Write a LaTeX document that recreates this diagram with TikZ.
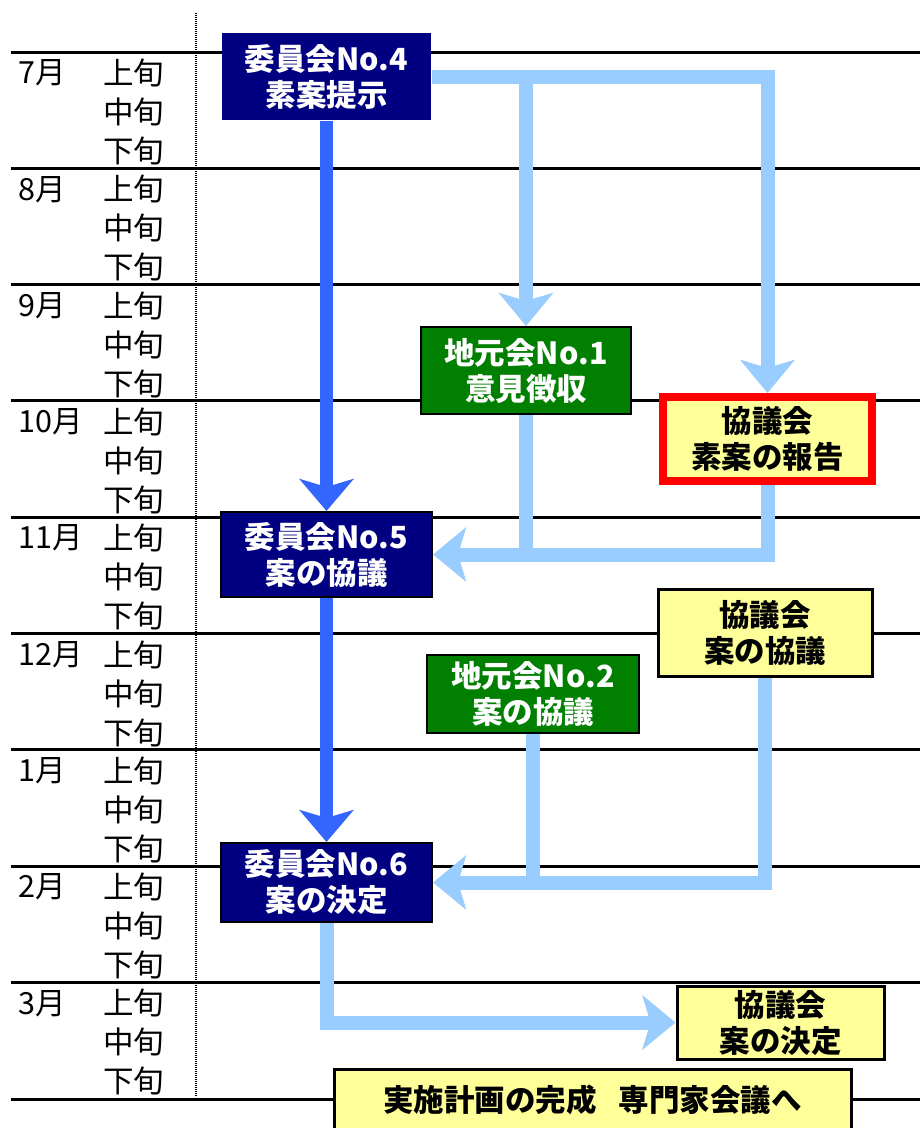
\documentclass[tikz,border=0pt]{standalone}
\usepackage{fontspec}
\setmainfont{Noto Sans CJK JP}
\usetikzlibrary{arrows.meta}
\definecolor{cnavy}{HTML}{000080}
\definecolor{cgreen}{HTML}{007F00}
\definecolor{cyellow}{HTML}{FFFF99}
\definecolor{clight}{HTML}{99CCFF}
\definecolor{cdark}{HTML}{3366FF}
\definecolor{cred}{HTML}{FF0000}
\begin{document}
\begin{tikzpicture}[x=1pt,y=-1pt,
  gridline/.style={line width=3pt,black},
  lbl/.style={anchor=west,inner sep=0pt,font=\fontsize{30.5}{30.5}\selectfont},
  box/.style={rectangle,inner sep=0pt,align=center,draw=black,line width=2pt,
    font=\bfseries\fontsize{30.5}{36}\selectfont},
  cbox/.style={box,fill=cnavy,text=white},
  gbox/.style={box,fill=cgreen,text=white},
  ybox/.style={box,fill=cyellow,text=black},
  darkline/.style={line width=13pt,draw=cdark},
  lightline/.style={line width=14pt,draw=clight},
  tipd/.style={-{Stealth[length=32pt,width=54pt,inset=8pt,fill=cdark]}},
  tipl/.style={-{Stealth[length=33pt,width=54pt,inset=8pt,fill=clight]}}
]
\useasboundingbox (0,0) rectangle (920,1128);
% grid
\foreach \m [count=\i from 0] in {7,8,9,10,11,12,1,2,3} {
  \pgfmathsetmacro\yy{52+116.3*\i}
  \draw[gridline] (11,\yy) -- (920,\yy);
  \node[lbl] (m\i) at (18,\yy+21) {\m 月};
  \node[lbl] (a\i) at (103,\yy+21) {上旬};
  \node[lbl] (b\i) at (103,\yy+60) {中旬};
  \node[lbl] (c\i) at (103,\yy+99) {下旬};
}
\draw[gridline] (11,1099) -- (920,1099);
\draw[line width=2.2pt,dash pattern=on 1.2pt off 0.8pt] (196,13) -- (196,1097);
% boxes
\node[cbox,draw=none,minimum width=209pt,minimum height=87pt] (c4) at (326.5,76.5) {委員会No.4\\素案提示};
\node[cbox,minimum width=211pt,minimum height=85pt] (c5) at (326.5,554.5) {委員会No.5\\案の協議};
\node[cbox,minimum width=211pt,minimum height=79pt] (c6) at (326.5,882.5) {委員会No.6\\案の決定};
\node[gbox,minimum width=210pt,minimum height=87pt] (l1) at (526,370.5) {地元会No.1\\意見徴収};
\node[gbox,minimum width=212pt,minimum height=78pt] (l2) at (533,694) {地元会No.2\\案の協議};
\node[ybox,draw=cred,line width=8pt,minimum width=209pt,minimum height=84pt] (k1) at (767.5,439) {協議会\\素案の報告};
\node[ybox,line width=3pt,minimum width=214pt,minimum height=87pt] (k2) at (765,632.5) {協議会\\案の協議};
\node[ybox,line width=3pt,minimum width=207pt,minimum height=73pt] (k3) at (780.5,1022.5) {協議会\\案の決定};
\node[ybox,line width=3pt,minimum width=517pt,minimum height=62pt] (fin) at (592.5,1100) {実施計画の完成\hspace{22pt}専門家会議へ};
% connectors
\draw[darkline,tipd] (c4.south) -- (c5.north);
\draw[darkline,tipd] (c5.south) -- (c6.north);
\draw[lightline,tipl] (c4.east) -| (k1.north);
\draw[lightline,tipl] (c4.east -| l1.north) -- (l1.north);
\draw[lightline] (k1.south) |- (l1.south |- c5.east);
\draw[lightline,tipl] (l1.south) |- (c5.east);
\draw[lightline] (k2.south) |- (l2.south |- c6.east);
\draw[lightline,tipl] (l2.south) |- (c6.east);
\draw[lightline,tipl] (c6.south) |- (k3.west);
\end{tikzpicture}
\end{document}
